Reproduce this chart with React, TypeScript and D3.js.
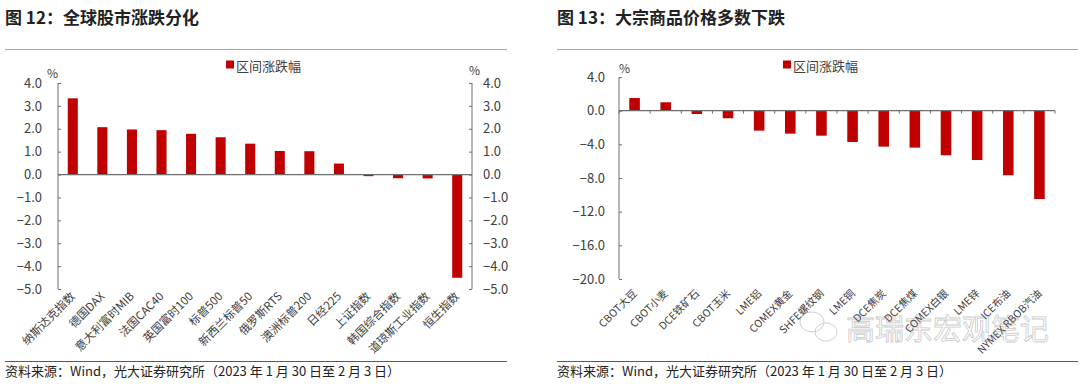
import React, { useEffect, useRef } from 'react';
import * as d3 from 'd3';

// left panel: global equity indices, % change
const stockNames = [
  '纳斯达克指数', '德国DAX', '意大利富时MIB', '法国CAC40', '英国富时100', '标普500',
  '新西兰标普50', '俄罗斯RTS', '澳洲标普200', '日经225', '上证指数', '韩国综合指数',
  '道琼斯工业指数', '恒生指数',
];
const stockValues = [3.33, 2.07, 1.97, 1.94, 1.78, 1.63, 1.35, 1.03, 1.02, 0.48, -0.07, -0.16, -0.17, -4.51];
const stockTicks = [4, 3, 2, 1, 0, -1, -2, -3, -4, -5];

// right panel: commodities, % change
const commodityNames = [
  'CBOT大豆', 'CBOT小麦', 'DCE铁矿石', 'CBOT玉米', 'LME铝', 'COMEX黄金', 'SHFE螺纹钢',
  'LME铜', 'DCE焦炭', 'DCE焦煤', 'COMEX白银', 'LME锌', 'ICE布油', 'NYMEX RBOB汽油',
];
const commodityValues = [1.5, 1.0, -0.4, -0.9, -2.37, -2.73, -2.97, -3.72, -4.27, -4.39, -5.3, -5.86, -7.67, -10.5];
const commodityTicks = [4, 0, -4, -8, -12, -16, -20];

const seriesName = '区间涨跌幅';
const titleLeft = '图 12：全球股市涨跌分化';
const titleRight = '图 13：大宗商品价格多数下跌';
const source = '资料来源：Wind，光大证券研究所（2023 年 1 月 30 日至 2 月 3 日）';

const W = 1080, H = 386;
const RED = '#c00000';
const AXIS = '#6e6e6e';
const TXT = '#404040';
const FONT = '"Noto Sans CJK SC", "Noto Sans", sans-serif';

function App() {
  const svgRef = useRef<SVGSVGElement>(null);

  useEffect(() => {
    const svg = d3.select(svgRef.current);
    svg.selectAll('*').remove();
    svg.style('font-family', FONT);

    // titles, rules, footers
    const heads = [
      { x: 5, x2: 507, title: titleLeft },
      { x: 557, x2: 1078, title: titleRight },
    ];
    heads.forEach(h => {
      svg.append('text').attr('x', h.x).attr('y', 24).text(h.title)
        .style('font-size', '17px').style('font-weight', 'bold').attr('fill', '#222');
      svg.append('line').attr('x1', h.x).attr('x2', h.x2).attr('y1', 49.5).attr('y2', 49.5)
        .attr('stroke', '#a6a6a6').attr('stroke-width', 1.2);
      svg.append('line').attr('x1', h.x).attr('x2', h.x2).attr('y1', 361.5).attr('y2', 361.5)
        .attr('stroke', '#595959').attr('stroke-width', 1);
      svg.append('text').attr('x', h.x).attr('y', 376).text(source)
        .style('font-size', '13px').attr('fill', '#222');
    });

    const legend = (x: number, y: number) => {
      svg.append('rect').attr('x', x).attr('y', y - 4.5).attr('width', 8).attr('height', 8).attr('fill', RED);
      svg.append('text').attr('x', x + 10).attr('y', y).attr('dominant-baseline', 'central')
        .text(seriesName).style('font-size', '13px').attr('fill', TXT);
    };

    const labels = (g: any, x: any, names: string[], yTop: number, size: number) => {
      g.selectAll('.xl').data(names).enter().append('text')
        .attr('class', 'xl')
        .attr('text-anchor', 'end')
        .attr('transform', (d: string) => `translate(${x(d)! + x.bandwidth() / 2 + 3},${yTop}) rotate(-45)`)
        .style('font-size', size + 'px').attr('fill', TXT)
        .text((d: string) => d);
    };

    // ---- left chart ----
    {
      const x = d3.scaleBand().domain(stockNames).range([58, 472]).paddingInner(0.66).paddingOuter(0.33);
      const y = d3.scaleLinear().domain([-5, 4]).range([289, 83]);
      const g = svg.append('g');

      g.selectAll('.bar').data(stockValues).enter().append('rect')
        .attr('x', (d, i) => x(stockNames[i])!)
        .attr('width', x.bandwidth())
        .attr('y', d => y(Math.max(0, d)))
        .attr('height', d => Math.abs(y(d) - y(0)))
        .attr('fill', RED);

      const la = g.append('g').attr('transform', 'translate(58,0)')
        .call(d3.axisLeft(y).tickValues(stockTicks).tickSize(-3).tickPadding(16).tickFormat(d3.format('.1f')));
      const ra = g.append('g').attr('transform', 'translate(472,0)')
        .call(d3.axisRight(y).tickValues(stockTicks).tickSize(-3).tickPadding(11).tickFormat(d3.format('.1f')));
      [la, ra].forEach(a => {
        a.select('.domain').attr('stroke', AXIS).attr('d', `M0,${y(4)}V${y(-5)}`);
        a.selectAll('.tick line').attr('stroke', AXIS);
        a.selectAll('.tick text').style('font-size', '13px').attr('fill', TXT).style('font-family', FONT);
      });
      g.append('line').attr('x1', 58).attr('x2', 472).attr('y1', y(0)).attr('y2', y(0))
        .attr('stroke', AXIS).attr('stroke-width', 1.2);

      g.append('text').attr('x', 47).attr('y', 78).text('%').style('font-size', '12px').attr('fill', TXT);
      g.append('text').attr('x', 469).attr('y', 75).text('%').style('font-size', '12px').attr('fill', TXT);
      legend(226, 65);
      labels(g, x, stockNames, 297, 11.5);
    }

    // ---- right chart ----
    {
      const x = d3.scaleBand().domain(commodityNames).range([619, 1055]).paddingInner(0.66).paddingOuter(0.33);
      const y = d3.scaleLinear().domain([-20, 4]).range([279, 77]);
      const g = svg.append('g');

      g.selectAll('.bar').data(commodityValues).enter().append('rect')
        .attr('x', (d, i) => x(commodityNames[i])!)
        .attr('width', x.bandwidth())
        .attr('y', d => y(Math.max(0, d)))
        .attr('height', d => Math.abs(y(d) - y(0)))
        .attr('fill', RED);

      const la = g.append('g').attr('transform', 'translate(619,0)')
        .call(d3.axisLeft(y).tickValues(commodityTicks).tickSize(-3).tickPadding(14).tickFormat(d3.format('.1f')));
      la.select('.domain').attr('stroke', AXIS).attr('d', `M0,${y(4)}V${y(-20)}`);
      la.selectAll('.tick line').attr('stroke', AXIS);
      la.selectAll('.tick text').style('font-size', '13px').attr('fill', TXT).style('font-family', FONT);

      // category axis on the zero line
      const xa = g.append('g').attr('transform', `translate(0,${y(0)})`);
      xa.append('line').attr('x1', 619).attr('x2', 1055).attr('stroke', AXIS).attr('stroke-width', 1.2);
      const step = x.step();
      xa.selectAll('.tk').data(d3.range(commodityNames.length + 1)).enter().append('line')
        .attr('x1', i => 619 + i * step).attr('x2', i => 619 + i * step)
        .attr('y1', 0).attr('y2', 3).attr('stroke', AXIS);

      g.append('text').attr('x', 619).attr('y', 73).text('%').style('font-size', '12px').attr('fill', TXT);
      legend(783, 65);
      labels(g, x, commodityNames, 294, 10.5);

      // watermark
      const wm = svg.append('g').attr('opacity', 0.45);
      wm.append('ellipse').attr('cx', 812).attr('cy', 322).attr('rx', 12).attr('ry', 10)
        .attr('fill', 'none').attr('stroke', '#999').attr('stroke-width', 1);
      wm.append('ellipse').attr('cx', 826).attr('cy', 332).attr('rx', 11).attr('ry', 9)
        .attr('fill', 'none').attr('stroke', '#999').attr('stroke-width', 1);
      wm.append('text').attr('x', 846).attr('y', 340).text('高瑞东宏观笔记')
        .style('font-size', '29px').attr('fill', 'none').attr('stroke', '#888').attr('stroke-width', 0.8);
    }
  }, []);

  return (
    <div>
      <svg ref={svgRef} width={W} height={H} style={{ position: 'absolute', left: 0, top: 0, background: '#fff' }} />
    </div>
  );
}

export default App;
